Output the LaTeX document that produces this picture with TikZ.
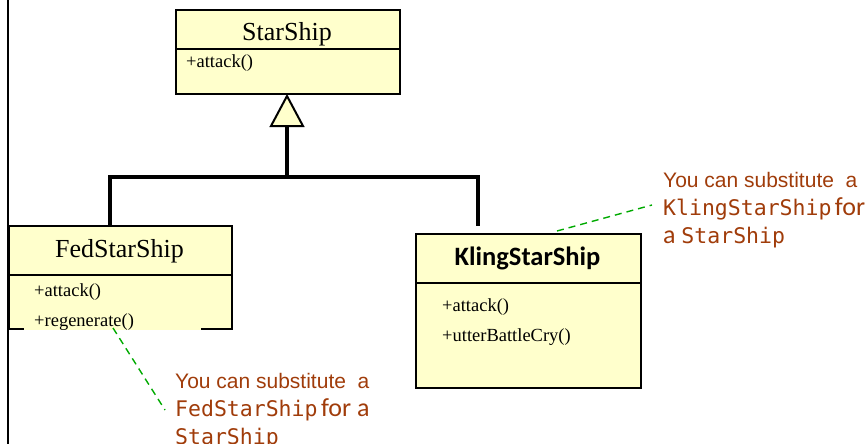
\documentclass[tikz,border=0pt]{standalone}
\usepackage{fontspec}
\setmainfont{Liberation Serif}
\newfontfamily\notefont{Liberation Sans}
\newfontfamily\calib{Carlito}
\newfontfamily\codefont{DejaVu Sans Mono}
\definecolor{umlfill}{RGB}{255,255,204}
\definecolor{notecol}{RGB}{160,60,10}
\definecolor{notelink}{RGB}{0,170,0}
\tikzset{
  umlbox/.style={draw=black, line width=2pt, fill=umlfill, inner sep=0pt, anchor=north west},
  divider/.style={line width=2pt},
  genline/.style={line width=3.5pt},
  titletext/.style={font=\fontsize{26}{30}\selectfont, inner sep=0pt, anchor=base},
  optext/.style={font=\fontsize{18.5}{22}\selectfont, inner sep=0pt, anchor=base west},
  notetext/.style={text=notecol, align=left, inner sep=0pt, anchor=base west,
    font=\notefont\fontsize{21}{27.7}\selectfont},
  notedash/.style={draw=notelink, line width=1.4pt, dash pattern=on 7pt off 5pt},
}
\newcommand{\cw}[1]{{\codefont\fontsize{21.5}{27.7}\selectfont #1}}
\newcommand{\cb}[1]{{\calib\fontsize{26}{27.7}\selectfont #1}}
\begin{document}
\begin{tikzpicture}[x=1pt,y=-1pt]
\useasboundingbox (0,0) rectangle (868,444);
% left frame line
\draw[line width=2pt] (8,-2) -- (8,446);

% StarShip
\node[umlbox, minimum width=224pt, minimum height=84pt] (star) at (175,9) {};
\draw[divider] (175,49) -- (399,49);
\node[titletext] (startitle) at (287,41) {StarShip};
\node[optext] (starop) at (186,68) {+attack()};

% FedStarShip
\node[umlbox, minimum width=223pt, minimum height=103pt] (fed) at (8,225) {};
\draw[divider] (8,275) -- (231,275);
\fill[umlfill] (24,326) rectangle (201,330);
\node[titletext] (fedtitle) at (119.5,257) {FedStarShip};
\node[optext] (fedop1) at (34,296) {+attack()};
\node[optext] (fedop2) at (34,326) {+regenerate()};

% KlingStarShip
\node[umlbox, minimum width=225pt, minimum height=154pt] (kling) at (415,233) {};
\draw[divider] (415,283) -- (640,283);
\node[titletext, font=\calib\bfseries\fontsize{26.5}{30}\selectfont] (klingtitle) at (527.5,265) {KlingStarShip};
\node[optext] (klingop1) at (442,311) {+attack()};
\node[optext] (klingop2) at (442,341) {+utterBattleCry()};

% generalization
\coordinate (apex) at (287,96);
\coordinate (tribase) at (287,126);
\coordinate (join) at (287,177);
\coordinate (fedtop) at (110,225);
\coordinate (klingtop) at (478,226);
\draw[genline] (tribase) -- (join);
\draw[genline] (fedtop) -- (fedtop |- join) -- (klingtop |- join) -- (klingtop);
\draw[line width=2pt, fill=umlfill, line join=miter] (apex) -- (271,126) -- (303,126) -- cycle;

% notes (anchored at the baseline of their last line)
\node[notetext] (klingnote) at (663,243) {You can substitute \ a\\\cw{KlingStarShip}\,\cb{for}\\\cb{a} \cw{StarShip}};
\node[notetext] (fednote) at (175,444) {You can substitute \ a\\\cw{FedStarShip}\,\cb{for a}\\\cw{StarShip}};
\coordinate (klinglink) at (557,231);
\coordinate (klingend) at (652,205);
\coordinate (fedlink) at (113,328);
\coordinate (fedend) at (165,410);
\draw[notedash] (klinglink) -- (klingend);
\draw[notedash] (fedlink) -- (fedend);
\end{tikzpicture}
\end{document}
